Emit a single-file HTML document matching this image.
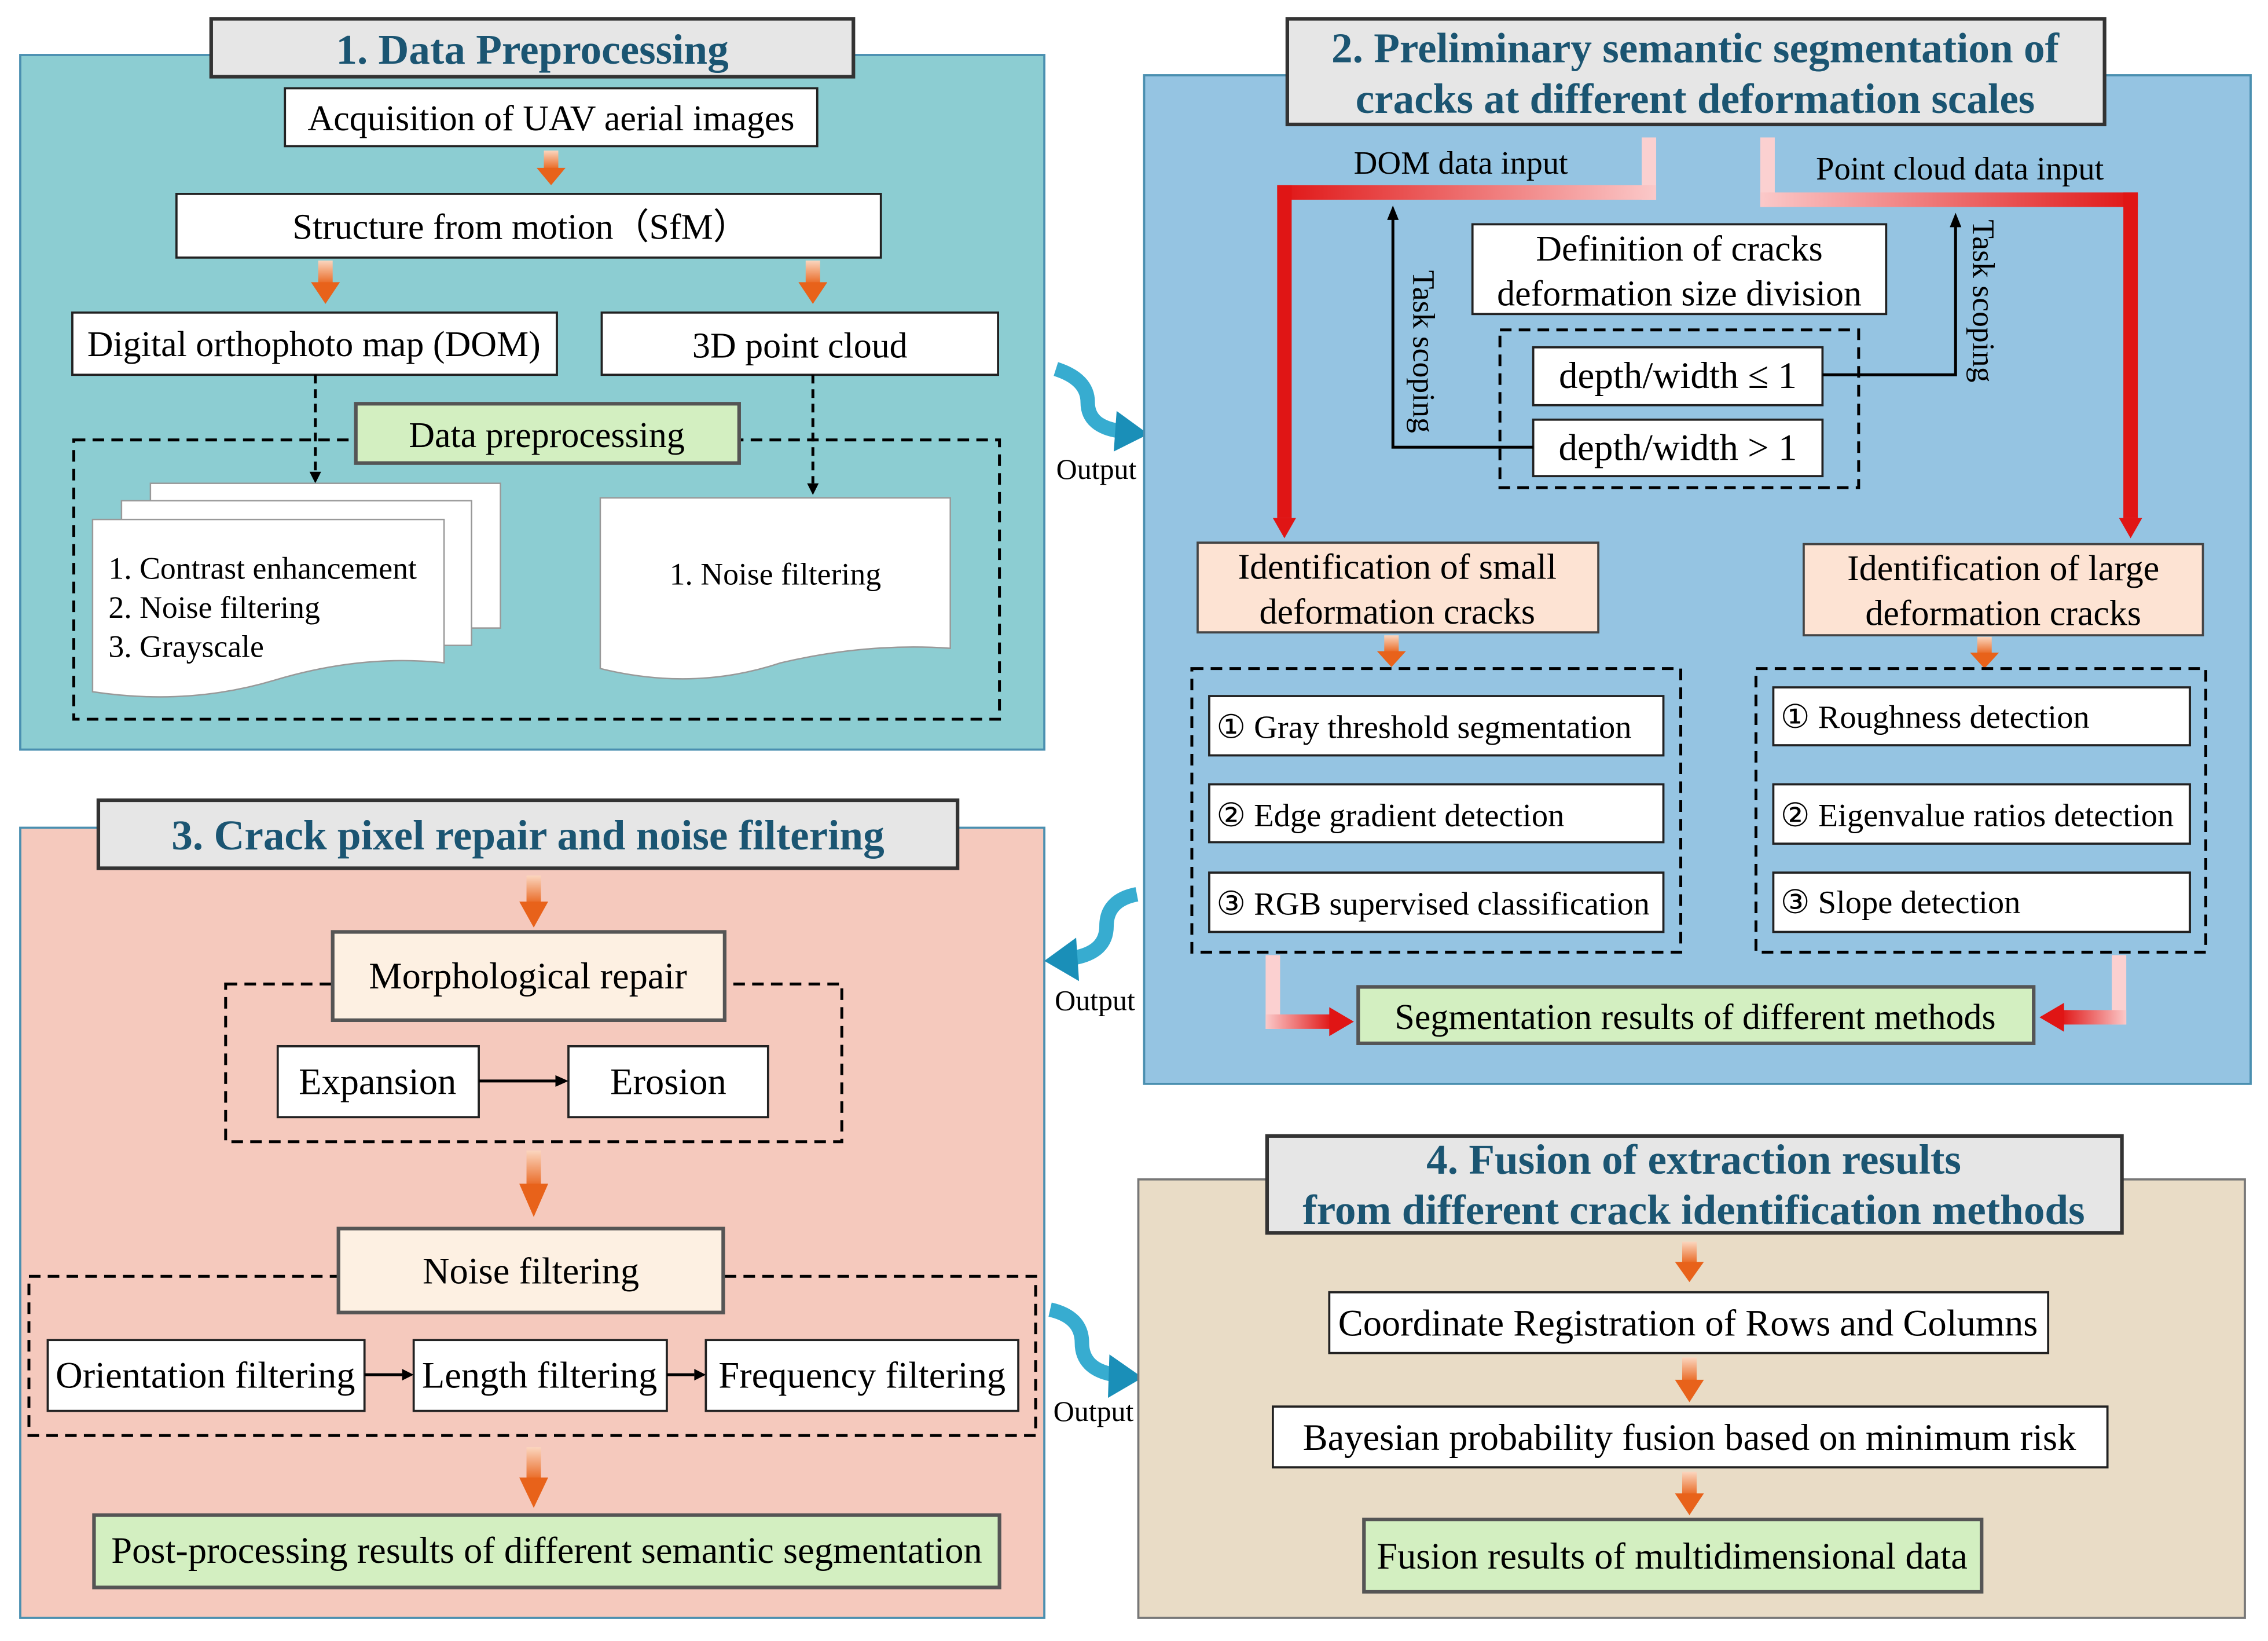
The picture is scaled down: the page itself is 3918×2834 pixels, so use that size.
<!DOCTYPE html>
<html><head><meta charset="utf-8"><style>
html,body{margin:0;padding:0;background:#fff;}
svg{display:block;}
text{font-family:"Liberation Serif",serif;fill:#000;}
.t{font-weight:bold;fill:#1b5572;font-size:29.3px;}
.b{fill:#fff;stroke:#222;stroke-width:1.5;}
.g{fill:#d3efc1;stroke:#555;stroke-width:2.5;}
.d{fill:none;stroke:#000;stroke-width:2;stroke-dasharray:8 5;}
.tb{fill:#e6e6e6;stroke:#333;stroke-width:2.5;}
</style></head><body>
<svg width="3918" height="2834" viewBox="0 0 1568 1134" preserveAspectRatio="none" xmlns="http://www.w3.org/2000/svg">
<defs>
<linearGradient id="og" x1="0" y1="0" x2="0" y2="1"><stop offset="0" stop-color="#fbd6bf"/><stop offset="1" stop-color="#e8621a"/></linearGradient>
<symbol id="oa" viewBox="0 0 20 30" preserveAspectRatio="none"><rect x="5" y="0" width="10" height="17" fill="url(#og)"/><polygon points="0,15 20,15 10,30" fill="#e8621a"/></symbol>
<linearGradient id="rh" x1="0" y1="0" x2="1" y2="0"><stop offset="0" stop-color="#fbc9c9"/><stop offset="1" stop-color="#e01515"/></linearGradient>
<linearGradient id="rhr" x1="1" y1="0" x2="0" y2="0"><stop offset="0" stop-color="#fbc9c9"/><stop offset="1" stop-color="#e01515"/></linearGradient>
</defs>

<!-- Panel 1 -->
<rect x="14" y="38" width="708" height="480" fill="#8ccdd2" stroke="#4a8fb0" stroke-width="1.5"/>
<rect class="tb" x="146" y="13" width="444" height="40"/>
<text class="t" x="368" y="44" text-anchor="middle">1. Data Preprocessing</text>
<rect class="b" x="197" y="61" width="368" height="40"/>
<text x="381" y="90" font-size="24.8" text-anchor="middle">Acquisition of UAV aerial images</text>
<use href="#oa" x="371" y="104" width="20" height="24"/>
<rect class="b" x="122" y="134" width="487" height="44"/>
<text x="360" y="165" font-size="24.8" text-anchor="middle">Structure from motion（SfM）</text>
<use href="#oa" x="215" y="180" width="20" height="30"/>
<use href="#oa" x="552" y="180" width="20" height="30"/>
<rect class="b" x="50" y="216" width="335" height="43"/>
<text x="217" y="246" font-size="24.8" text-anchor="middle">Digital orthophoto map (DOM)</text>
<rect class="b" x="416" y="216" width="274" height="43"/>
<text x="553" y="247" font-size="24.8" text-anchor="middle">3D point cloud</text>
<rect class="d" x="51" y="304" width="640" height="193"/>
<line x1="218" y1="259" x2="218" y2="326" stroke="#000" stroke-width="2" stroke-dasharray="6 4"/>
<polygon points="214,326 222,326 218,334" fill="#000"/>
<line x1="562" y1="259" x2="562" y2="334" stroke="#000" stroke-width="2" stroke-dasharray="6 4"/>
<polygon points="558,334 566,334 562,342" fill="#000"/>
<rect class="g" x="246" y="279" width="265" height="41"/>
<text x="378" y="309" font-size="24.8" text-anchor="middle">Data preprocessing</text>
<rect x="104" y="334" width="242" height="100" fill="#fff" stroke="#999"/>
<rect x="84" y="346" width="242" height="100" fill="#fff" stroke="#999"/>
<path d="M64,359 H307 V458 Q250,452 190,470 Q130,488 64,478 Z" fill="#fff" stroke="#999"/>
<text x="75" y="400" font-size="21.5">1. Contrast enhancement</text>
<text x="75" y="427" font-size="21.5">2. Noise filtering</text>
<text x="75" y="454" font-size="21.5">3. Grayscale</text>
<path d="M415,344 H657 V448 Q600,444 540,458 Q480,478 415,462 Z" fill="#fff" stroke="#999"/>
<text x="536" y="404" font-size="21.5" text-anchor="middle">1. Noise filtering</text>

<!-- cyan output arrows -->
<path d="M730,255 Q752,262 752,278 Q752,295 775,298" fill="none" stroke="#37acd0" stroke-width="10"/>
<polygon points="772,284 794,300 770,312" fill="#1a8fb8"/>
<text x="758" y="331" font-size="20" text-anchor="middle">Output</text>
<path d="M786,618 Q765,622 765,640 Q765,658 742,662" fill="none" stroke="#37acd0" stroke-width="10"/>
<polygon points="744,648 722,664 746,678" fill="#1a8fb8"/>
<text x="757" y="698" font-size="20" text-anchor="middle">Output</text>
<path d="M726,905 Q748,910 748,928 Q748,946 770,950" fill="none" stroke="#37acd0" stroke-width="10"/>
<polygon points="767,936 790,952 766,966" fill="#1a8fb8"/>
<text x="756" y="982" font-size="20" text-anchor="middle">Output</text>

<!-- Panel 2 -->
<rect x="791" y="52" width="765" height="697" fill="#95c4e2" stroke="#4a8fb0" stroke-width="1.5"/>
<rect class="tb" x="890" y="13" width="565" height="73"/>
<text class="t" x="1172" y="43" text-anchor="middle">2. Preliminary semantic segmentation of</text>
<text class="t" x="1172" y="78" text-anchor="middle">cracks at different deformation scales</text>
<rect x="1135" y="95" width="10" height="43" fill="#fbd0d0"/>
<rect x="883" y="128" width="262" height="10" fill="url(#rhr)"/>
<rect x="883" y="128" width="10" height="230" fill="#e01515"/>
<polygon points="880,358 896,358 888,372" fill="#e01515"/>
<rect x="1217" y="95" width="10" height="48" fill="#fbd0d0"/>
<rect x="1217" y="133" width="261" height="10" fill="url(#rh)"/>
<rect x="1468" y="133" width="10" height="225" fill="#e01515"/>
<polygon points="1465,358 1481,358 1473,372" fill="#e01515"/>
<text x="1010" y="120" font-size="22.6" text-anchor="middle">DOM data input</text>
<text x="1355" y="124" font-size="22.6" text-anchor="middle">Point cloud data input</text>
<rect class="b" x="1018" y="155" width="286" height="62"/>
<text x="1161" y="180" font-size="24.8" text-anchor="middle">Definition of cracks</text>
<text x="1161" y="211" font-size="24.8" text-anchor="middle">deformation size division</text>
<rect class="d" x="1037" y="228" width="248" height="109"/>
<rect class="b" x="1060" y="240" width="200" height="40"/>
<text x="1160" y="268" font-size="26" text-anchor="middle">depth/width ≤ 1</text>
<rect class="b" x="1060" y="290" width="200" height="39"/>
<text x="1160" y="318" font-size="26" text-anchor="middle">depth/width &gt; 1</text>
<polyline points="1060,309 963,309 963,150" fill="none" stroke="#000" stroke-width="2"/>
<polygon points="959,152 967,152 963,142" fill="#000"/>
<polyline points="1260,259 1352,259 1352,155" fill="none" stroke="#000" stroke-width="2"/>
<polygon points="1348,157 1356,157 1352,147" fill="#000"/>
<text x="0" y="0" font-size="21.5" text-anchor="middle" transform="translate(977,243) rotate(90)">Task scoping</text>
<text x="0" y="0" font-size="21.5" text-anchor="middle" transform="translate(1364,208) rotate(90)">Task scoping</text>
<rect x="828" y="375" width="277" height="62" fill="#fde3d3" stroke="#444" stroke-width="1.5"/>
<text x="966" y="400" font-size="24.8" text-anchor="middle">Identification of small</text>
<text x="966" y="431" font-size="24.8" text-anchor="middle">deformation cracks</text>
<rect x="1247" y="376" width="276" height="63" fill="#fde3d3" stroke="#444" stroke-width="1.5"/>
<text x="1385" y="401" font-size="24.8" text-anchor="middle">Identification of large</text>
<text x="1385" y="432" font-size="24.8" text-anchor="middle">deformation cracks</text>
<use href="#oa" x="952" y="439" width="20" height="22"/>
<use href="#oa" x="1362" y="440" width="20" height="22"/>
<rect class="d" x="824" y="462" width="338" height="196"/>
<rect class="d" x="1214" y="462" width="311" height="196"/>
<rect class="b" x="836" y="481" width="314" height="41"/>
<text x="841" y="510" font-size="22.6">① Gray threshold segmentation</text>
<rect class="b" x="836" y="542" width="314" height="40"/>
<text x="841" y="571" font-size="22.6">② Edge gradient detection</text>
<rect class="b" x="836" y="603" width="314" height="41"/>
<text x="841" y="632" font-size="22.6">③ RGB supervised classification</text>
<rect class="b" x="1226" y="475" width="288" height="40"/>
<text x="1231" y="503" font-size="22.6">① Roughness detection</text>
<rect class="b" x="1226" y="542" width="288" height="41"/>
<text x="1231" y="571" font-size="22.6">② Eigenvalue ratios detection</text>
<rect class="b" x="1226" y="603" width="288" height="41"/>
<text x="1231" y="631" font-size="22.6">③ Slope detection</text>
<rect x="875" y="660" width="10" height="51" fill="#fbd0d0"/>
<rect x="875" y="701" width="46" height="10" fill="url(#rh)"/>
<polygon points="919,696 936,706 919,716" fill="#e01515"/>
<rect x="1460" y="660" width="10" height="48" fill="#fbd0d0"/>
<rect x="1425" y="698" width="45" height="10" fill="url(#rhr)"/>
<polygon points="1427,693 1410,703 1427,713" fill="#e01515"/>
<rect class="g" x="939" y="682" width="467" height="39"/>
<text x="1172" y="711" font-size="24.8" text-anchor="middle">Segmentation results of different methods</text>

<!-- Panel 3 -->
<rect x="14" y="572" width="708" height="546" fill="#f5c9bd" stroke="#4a8fb0" stroke-width="1.5"/>
<rect class="tb" x="68" y="553" width="594" height="47"/>
<text class="t" x="365" y="587" text-anchor="middle">3. Crack pixel repair and noise filtering</text>
<use href="#oa" x="359" y="605" width="20" height="36"/>
<rect class="d" x="156" y="680" width="426" height="109"/>
<rect x="230" y="644" width="271" height="61" fill="#fdf0e2" stroke="#555" stroke-width="2.5"/>
<text x="365" y="683" font-size="25.8" text-anchor="middle">Morphological repair</text>
<rect class="b" x="192" y="723" width="139" height="49"/>
<text x="261" y="756" font-size="25.8" text-anchor="middle">Expansion</text>
<rect class="b" x="393" y="723" width="138" height="49"/>
<text x="462" y="756" font-size="25.8" text-anchor="middle">Erosion</text>
<line x1="331" y1="747" x2="385" y2="747" stroke="#000" stroke-width="2"/>
<polygon points="384,743 393,747 384,751" fill="#000"/>
<use href="#oa" x="359" y="795" width="20" height="46"/>
<rect class="d" x="20" y="882" width="696" height="110"/>
<rect x="234" y="849" width="266" height="58" fill="#fdf0e2" stroke="#555" stroke-width="2.5"/>
<text x="367" y="887" font-size="25.8" text-anchor="middle">Noise filtering</text>
<rect class="b" x="33" y="926" width="219" height="49"/>
<text x="142" y="959" font-size="25.8" text-anchor="middle">Orientation filtering</text>
<rect class="b" x="286" y="926" width="175" height="49"/>
<text x="373" y="959" font-size="25.8" text-anchor="middle">Length filtering</text>
<rect class="b" x="488" y="926" width="216" height="49"/>
<text x="596" y="959" font-size="25.8" text-anchor="middle">Frequency filtering</text>
<line x1="252" y1="950" x2="278" y2="950" stroke="#000" stroke-width="2"/>
<polygon points="278,946 286,950 278,954" fill="#000"/>
<line x1="461" y1="950" x2="480" y2="950" stroke="#000" stroke-width="2"/>
<polygon points="480,946 488,950 480,954" fill="#000"/>
<use href="#oa" x="359" y="1000" width="20" height="42"/>
<rect class="g" x="65" y="1047" width="626" height="50"/>
<text x="378" y="1080" font-size="25.8" text-anchor="middle">Post-processing results of different semantic segmentation</text>

<!-- Panel 4 -->
<rect x="787" y="815" width="765" height="303" fill="#e9dcc6" stroke="#777" stroke-width="1.5"/>
<rect class="tb" x="876" y="785" width="591" height="67"/>
<text class="t" x="1171" y="811" text-anchor="middle">4. Fusion of extraction results</text>
<text class="t" x="1171" y="846" text-anchor="middle">from different crack identification methods</text>
<use href="#oa" x="1158" y="858" width="20" height="28"/>
<rect class="b" x="919" y="893" width="497" height="42"/>
<text x="1167" y="923" font-size="25.8" text-anchor="middle">Coordinate Registration of Rows and Columns</text>
<use href="#oa" x="1158" y="938" width="20" height="31"/>
<rect class="b" x="880" y="972" width="577" height="42"/>
<text x="1168" y="1002" font-size="25.8" text-anchor="middle">Bayesian probability fusion based on minimum risk</text>
<use href="#oa" x="1158" y="1017" width="20" height="30"/>
<rect class="g" x="943" y="1050" width="427" height="50"/>
<text x="1156" y="1084" font-size="25.8" text-anchor="middle">Fusion results of multidimensional data</text>
</svg>
</body></html>
